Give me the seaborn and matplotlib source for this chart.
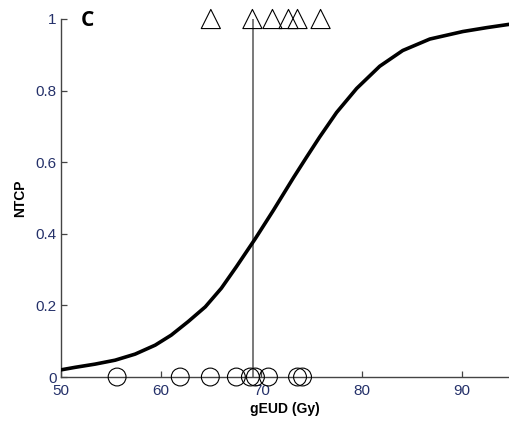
"""NTCP dose-response curve vs gEUD, with observed outcomes (panel C)."""

import matplotlib
matplotlib.use("Agg")
import matplotlib.pyplot as plt
import pandas as pd
import seaborn as sns

# fitted curve
CURVE_GEUD = [50.0, 51.4, 53.4, 55.4, 57.4, 59.4, 61.0, 62.7, 64.4, 66.0,
              67.5, 69.4, 71.2, 73.2, 74.5, 75.8, 77.5, 79.5, 81.8, 84.1,
              86.8, 90.1, 92.5, 94.7]
CURVE_NTCP = [0.020, 0.027, 0.036, 0.047, 0.064, 0.089, 0.117, 0.155, 0.196,
              0.248, 0.308, 0.387, 0.466, 0.557, 0.614, 0.670, 0.739, 0.806,
              0.868, 0.912, 0.944, 0.965, 0.976, 0.985]

# patients without complication (plotted at 0) and with complication (at 1)
NO_TOX_GEUD = [55.6, 61.9, 64.9, 67.5, 68.9, 69.4, 70.7, 73.6, 74.1]
TOX_GEUD = [64.95, 69.1, 71.1, 72.7, 73.6, 75.9]
CUTOFF_GEUD = 69.2

X_TICKS = [50, 60, 70, 80, 90]
Y_TICKS = [0, 0.2, 0.4, 0.6, 0.8, 1]
TICK_COLOR = "#25316a"


def main() -> None:
    sns.set_style("ticks")
    plt.rcParams["font.family"] = ["Liberation Sans", "DejaVu Sans"]

    curve = pd.DataFrame({"geud": CURVE_GEUD, "ntcp": CURVE_NTCP})
    no_tox = pd.DataFrame({"geud": NO_TOX_GEUD, "ntcp": [0] * len(NO_TOX_GEUD)})
    tox = pd.DataFrame({"geud": TOX_GEUD, "ntcp": [1] * len(TOX_GEUD)})

    fig = plt.figure(figsize=(5.09, 4.25), dpi=100)
    ax = fig.add_axes([0.1198, 0.1129, 0.8802, 0.8424])

    sns.lineplot(data=curve, x="geud", y="ntcp", ax=ax, color="black",
                 linewidth=2.6, zorder=3, solid_joinstyle="round")
    ax.plot([CUTOFF_GEUD, CUTOFF_GEUD], [0, 1], color="#555555",
            linewidth=1.1, zorder=2)
    sns.scatterplot(data=no_tox, x="geud", y="ntcp", ax=ax, marker="o", s=165,
                    facecolor="none", edgecolor="black", linewidth=0.8,
                    clip_on=False, zorder=4)
    sns.scatterplot(data=tox, x="geud", y="ntcp", ax=ax, marker="^", s=190,
                    facecolor="none", edgecolor="black", linewidth=0.8,
                    clip_on=False, zorder=4)

    ax.set_xlim(50, 94.7)
    ax.set_ylim(0, 1)
    ax.set_xticks(X_TICKS)
    ax.set_yticks(Y_TICKS)
    ax.set_yticklabels([f"{v:g}" for v in Y_TICKS])
    ax.tick_params(direction="in", length=4, width=0.9, color="#444444",
                   labelsize=11, labelcolor=TICK_COLOR, pad=3)
    ax.tick_params(axis="x", pad=5)

    sns.despine(ax=ax)
    for side in ("left", "bottom"):
        ax.spines[side].set_color("#444444")
        ax.spines[side].set_linewidth(1.0)

    ax.set_xlabel("gEUD (Gy)", fontsize=10, fontweight="bold", labelpad=3,
                  color="black")
    ax.set_ylabel("NTCP", fontsize=10, fontweight="bold", labelpad=6,
                  color="black")
    ax.text(0.06, 0.995, "C", transform=ax.transAxes, fontsize=15,
            fontweight="bold", family=["Open Sans", "DejaVu Sans"],
            ha="center", va="center", color="black")

    fig.savefig("out.png", dpi=100)
    plt.close(fig)


if __name__ == "__main__":
    main()
